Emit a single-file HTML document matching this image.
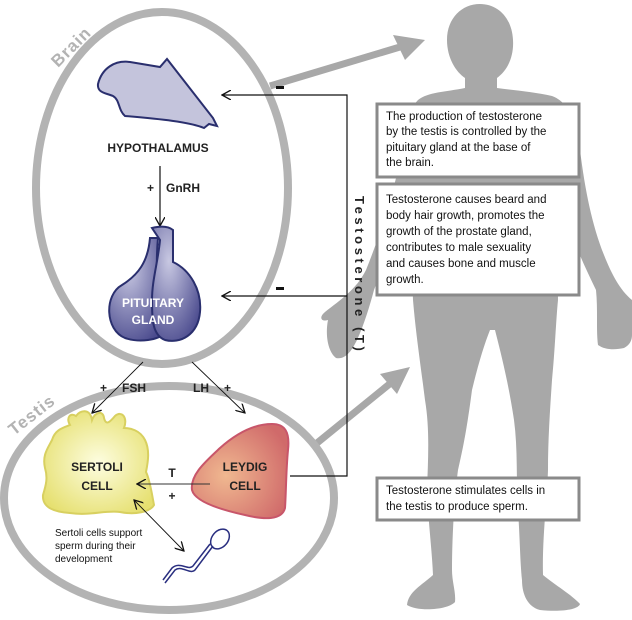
<!DOCTYPE html>
<html><head><meta charset="utf-8"><style>
body{margin:0;background:#fff}
svg{display:block;font-family:"Liberation Sans",sans-serif}
.b{font-weight:bold;font-size:12px;fill:#222}
.box{fill:#fff;stroke:#8a8a8a;stroke-width:3}
.bt{font-size:11.5px;fill:#111}
</style></head><body>
<svg width="632" height="620" viewBox="0 0 632 620">
<defs>
<marker id="ah" markerWidth="10" markerHeight="10" refX="9" refY="5" orient="auto" markerUnits="userSpaceOnUse"><path d="M0,0 L9,5 L0,10" fill="none" stroke="#111" stroke-width="1.3"/></marker>
<marker id="ah2" markerWidth="10" markerHeight="10" refX="1" refY="5" orient="auto" markerUnits="userSpaceOnUse"><path d="M10,0 L1,5 L10,10" fill="none" stroke="#111" stroke-width="1.3"/></marker>
<radialGradient id="pg" cx="0.35" cy="0.3" r="0.8"><stop offset="0" stop-color="#c8c8e2"/><stop offset="1" stop-color="#4b4b8e"/></radialGradient>
<radialGradient id="yg" cx="0.5" cy="0.5" r="0.6"><stop offset="0" stop-color="#fdfde0"/><stop offset="1" stop-color="#e6e070"/></radialGradient>
<radialGradient id="rg" cx="0.35" cy="0.55" r="0.7"><stop offset="0" stop-color="#f0b890"/><stop offset="1" stop-color="#d06a6a"/></radialGradient>
</defs>

<!-- human figure -->
<path fill="#a8a8a8" d="M480,4 C462,4 447,18 447,40 C447,58 456,72 465,78 L465,88 C445,92 428,92 418,100 C408,110 405,130 400,160 C392,200 378,240 366,270 C356,290 340,300 325,312 C318,318 322,322 328,320 C325,335 328,352 336,358 C346,360 352,350 357,340 C364,325 370,305 374,290 C386,258 398,232 408,205 C410,240 412,270 413,300 C416,335 420,360 425,400 C430,430 428,460 427,490 C428,520 432,550 433,575 C422,585 408,592 407,605 C418,612 448,610 455,602 C456,592 452,582 452,570 C452,540 454,500 458,470 C465,440 468,420 472,390 C478,365 484,345 490,330 L495,330 C500,350 508,380 514,420 C518,450 516,480 518,510 C520,540 520,560 522,580 C522,595 528,607 540,610 C560,612 578,610 580,604 C572,595 555,585 543,575 C542,540 547,500 548,470 C548,440 550,410 552,380 C555,350 556,320 558,300 C558,270 556,240 556,205 L562,205 C572,240 584,265 596,290 C598,310 596,330 598,345 C605,350 615,350 624,348 C630,345 632,340 632,335 L632,300 C620,290 612,275 604,255 C592,225 585,190 580,150 C575,118 568,102 552,96 C535,92 512,90 497,88 L497,78 C508,70 514,56 513,40 C512,18 498,4 480,4 Z"/>

<!-- big gray arrows -->
<g>
<line x1="270" y1="86" x2="400" y2="47" stroke="#a8a8a8" stroke-width="7"/>
<path d="M425,40 L393,35 L405,60 Z" fill="#a8a8a8"/>
</g>
<g>
<line x1="317" y1="443" x2="392" y2="382" stroke="#a8a8a8" stroke-width="7"/>
<path d="M410,367 L380,374 L397,394 Z" fill="#a8a8a8"/>
</g>

<!-- ellipses -->
<ellipse cx="162" cy="188" rx="126" ry="176" fill="none" stroke="#b3b3b3" stroke-width="8"/>
<ellipse cx="169" cy="498" rx="165" ry="112" fill="none" stroke="#b3b3b3" stroke-width="8"/>
<text transform="translate(58,68) rotate(-45)" font-size="17" font-weight="bold" fill="#b3b3b3" letter-spacing="1">Brain</text>
<text transform="translate(14,436) rotate(-38)" font-size="17" font-weight="bold" fill="#b3b3b3" letter-spacing="1">Testis</text>

<!-- hypothalamus -->
<path d="M98,84 C102,68 115,60 130,62 L160,67 L167,59 L213,118 L217,126 L209,124 L204,128 C190,122 160,119 125,116 C118,110 120,100 113,96 C106,93 97,93 98,84 Z" fill="#c4c4dc" stroke="#2a2f6e" stroke-width="2"/>
<text class="b" x="158" y="152" text-anchor="middle">HYPOTHALAMUS</text>
<line x1="160" y1="166" x2="160" y2="226" stroke="#111" stroke-width="1.2" marker-end="url(#ah)"/>
<text class="b" x="147" y="192">+</text>
<text class="b" x="166" y="192">GnRH</text>

<!-- pituitary -->
<g>
<path d="M150,238 C148,262 138,275 122,285 C104,295 105,330 125,338 C140,343 158,340 165,333 C158,300 155,270 158,238 Z" fill="url(#pg)" stroke="#2a2f6e" stroke-width="2"/>
<path d="M152,228 C160,226 168,226 173,230 L173,262 C190,270 202,290 200,312 C198,335 180,344 165,340 C152,335 152,318 152,300 C152,280 158,262 160,240 Z" fill="url(#pg)" stroke="#2a2f6e" stroke-width="2"/>
</g>
<text font-size="12" font-weight="bold" fill="#fff" text-anchor="middle"><tspan x="153" y="307">PITUITARY</tspan><tspan x="153" y="324">GLAND</tspan></text>

<!-- feedback lines -->
<g fill="none" stroke="#111" stroke-width="1.2">
<polyline points="290,476 347,476 347,95 222,95" marker-end="url(#ah)"/>
<line x1="347" y1="296" x2="222" y2="296" marker-end="url(#ah)"/>
</g>
<rect x="276" y="86" width="8" height="3" fill="#111"/>
<rect x="276" y="287" width="8" height="3" fill="#111"/>
<text transform="translate(355,196) rotate(90)" font-size="13" font-weight="bold" fill="#222" letter-spacing="3.6">Testosterone (T)</text>

<!-- FSH / LH -->
<line x1="143" y1="362" x2="92" y2="413" stroke="#111" stroke-width="0.9" marker-end="url(#ah)"/>
<line x1="192" y1="362" x2="245" y2="413" stroke="#111" stroke-width="0.9" marker-end="url(#ah)"/>
<text class="b" x="100" y="392">+</text>
<text class="b" x="122" y="392">FSH</text>
<text class="b" x="193" y="392">LH</text>
<text class="b" x="224" y="392">+</text>

<!-- sertoli -->
<path d="M70,425 C66,418 70,412 76,416 C80,410 90,408 92,420 C95,412 103,410 104,418 C106,426 110,422 115,416 C122,410 128,418 124,428 C130,428 140,430 145,440 C150,450 148,462 146,472 C150,480 152,495 154,505 C150,512 135,515 120,512 C105,510 90,516 70,513 C55,512 42,508 43,495 C46,485 48,478 45,468 C42,455 48,448 52,440 C55,430 62,428 70,425 Z" fill="url(#yg)" stroke="#d8d060" stroke-width="2"/>
<text class="b" font-size="12.5" text-anchor="middle"><tspan x="97" y="471">SERTOLI</tspan><tspan x="97" y="490">CELL</tspan></text>

<!-- leydig -->
<path d="M272,424 C285,424 290,432 288,450 C286,470 286,495 285,508 C282,520 265,520 245,515 C222,510 195,502 192,490 C190,475 205,462 220,448 C238,432 255,424 272,424 Z" fill="url(#rg)" stroke="#c8566a" stroke-width="2"/>
<text class="b" font-size="12.5" text-anchor="middle"><tspan x="245" y="471">LEYDIG</tspan><tspan x="245" y="490">CELL</tspan></text>

<line x1="210" y1="484" x2="137" y2="484" stroke="#333" stroke-width="0.9" marker-end="url(#ah)"/>
<text class="b" x="172" y="477" text-anchor="middle">T</text>
<text class="b" x="172" y="500" text-anchor="middle">+</text>
<line x1="134" y1="500" x2="184" y2="551" stroke="#111" stroke-width="0.9" marker-start="url(#ah2)" marker-end="url(#ah)"/>

<!-- sperm -->
<g fill="none" stroke="#2a2f80" stroke-width="1.5">
<ellipse cx="220" cy="539" rx="8" ry="11" transform="rotate(40 220 539)"/>
<path d="M213,546 L195,570 C190,575 182,565 175,570 L165,583"/>
<path d="M210,544 L193,566 C188,571 180,561 172,568 L163,580"/>
</g>
<text font-size="10" fill="#111"><tspan x="55" y="536">Sertoli cells support</tspan><tspan x="55" y="549">sperm during their</tspan><tspan x="55" y="562">development</tspan></text>

<!-- info boxes -->
<g>
<rect class="box" x="377" y="104" width="202" height="73"/>
<text class="bt"><tspan x="386" y="120">The production of testosterone</tspan><tspan x="386" y="135">by the testis is controlled by the</tspan><tspan x="386" y="151">pituitary gland at the base of</tspan><tspan x="386" y="166">the brain.</tspan></text>
</g>
<g>
<rect class="box" x="377" y="184" width="202" height="111"/>
<text class="bt"><tspan x="386" y="203">Testosterone causes beard and</tspan><tspan x="386" y="219">body hair growth, promotes the</tspan><tspan x="386" y="235">growth of the prostate gland,</tspan><tspan x="386" y="251">contributes to male sexuality</tspan><tspan x="386" y="267">and causes bone and muscle</tspan><tspan x="386" y="283">growth.</tspan></text>
</g>
<g>
<rect class="box" x="377" y="478" width="202" height="42"/>
<text class="bt"><tspan x="386" y="494">Testosterone stimulates cells in</tspan><tspan x="386" y="510">the testis to produce sperm.</tspan></text>
</g>
</svg>
</body></html>
